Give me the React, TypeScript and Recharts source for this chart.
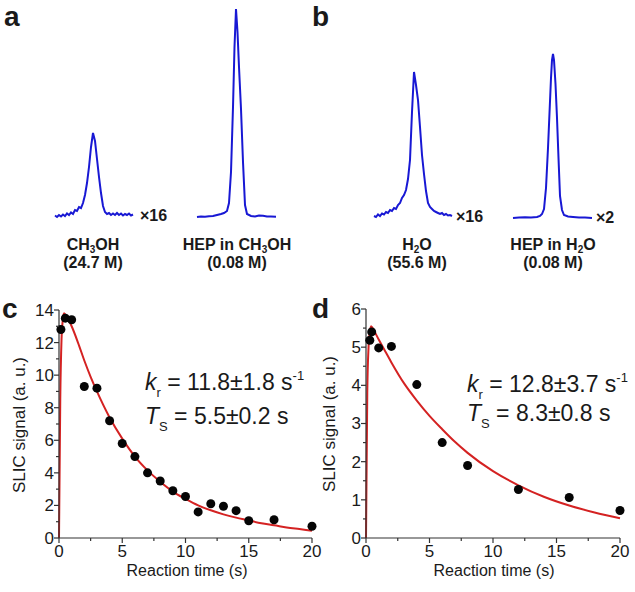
import React from 'react';
import { ComposedChart, LineChart, Line, Scatter, XAxis, YAxis } from 'recharts';

const FONT = '"Liberation Sans", Arial, Helvetica, sans-serif';
const BLUE = '#1818d4';
const RED = '#d42222';
const INK = '#1a1a1a';

// ---- spectra (x = relative shift, y = intensity, both in plot units) ----
const ch3ohShift = [0, 2, 4, 6, 8, 10, 12, 14, 16, 18, 20, 22, 24, 26, 28, 30, 32, 34, 36, 38, 40, 42, 44, 46, 48, 50, 52, 54, 56, 58, 60, 62, 64, 66, 68, 70, 72, 74, 76, 78];
const ch3ohSignal = [1.5, 0, 2, 0.5, 2.5, 1, 3.5, 2, 4.5, 3, 7, 6, 10, 9, 14, 22, 34, 50, 70, 84, 76, 58, 40, 24, 11, 5, 3, 4, 2, 3.5, 2, 4, 2, 3.5, 1.5, 3, 2, 3.5, 1.5, 2.5];

const hepMeohShift = [0, 4, 8, 12, 16, 20, 24, 27, 30, 32, 34, 36, 37.5, 39, 40.5, 42, 44, 46, 48, 50, 54, 58, 62, 66, 70, 74, 79];
const hepMeohSignal = [0, 0.5, 0.3, 0.8, 1, 2, 3, 4, 6, 14, 45, 110, 170, 208, 185, 150, 108, 55, 12, 3, 1, 0.5, 1.5, 1.2, 0.5, 0.5, 0.3];

const waterShift = [0, 2, 4, 6, 8, 10, 12, 14, 16, 18, 20, 22, 24, 26, 28, 30, 32, 34, 36, 38, 40, 42, 44, 46, 48, 50, 52, 54, 56, 58, 60, 62, 64, 66, 68, 70, 72, 74, 76, 78];
const waterSignal = [1, 0, 2.5, 1, 3.5, 2.5, 5, 4, 7, 6, 9, 8, 12, 14, 19, 22, 27, 38, 57, 105, 145, 132, 117, 90, 62, 43, 26, 14, 10, 8, 6, 5, 4, 3, 4, 2, 3, 1.5, 2, 1];

const hepWaterShift = [0, 6, 12, 18, 24, 27, 29, 31, 33, 35, 36.5, 38, 39, 40, 41, 42.5, 44, 45.5, 47, 49, 51, 55, 60, 66, 72, 79];
const hepWaterSignal = [0, 0.5, 0.8, 0.5, 1, 2, 4, 9, 30, 70, 105, 140, 158, 164, 158, 134, 100, 60, 22, 8, 3, 1.5, 1, 0.5, 0.5, 0];

// ---- kinetics, panel c (CH3OH) ----
const timeC = [0.15, 0.5, 1, 2, 3, 4, 5, 6, 7, 8, 9, 10, 11, 12, 13, 14, 15, 17, 20];
const signalC = [12.8, 13.5, 13.4, 9.3, 9.2, 7.2, 5.8, 5.0, 4.0, 3.5, 2.9, 2.55, 1.6, 2.1, 1.95, 1.68, 1.06, 1.12, 0.72];
const fitTimeC = [0, 0.1, 0.2, 0.3, 0.4, 0.6, 1, 1.5, 2, 2.5, 3, 4, 5, 6, 7, 8, 9, 10, 11, 12, 13, 14, 15, 16, 17, 18, 19, 20];
const fitC = [0, 8.5, 12.2, 13.4, 13.8, 13.6, 13.0, 12.0, 10.9, 9.9, 9.0, 7.4, 6.1, 5.0, 4.15, 3.45, 2.85, 2.4, 2.0, 1.7, 1.45, 1.25, 1.08, 0.9, 0.78, 0.65, 0.55, 0.45];

// ---- kinetics, panel d (H2O) ----
const timeD = [0.3, 0.45, 1, 2, 4, 6, 8, 12, 16, 20];
const signalD = [5.18, 5.4, 4.98, 5.02, 4.02, 2.5, 1.9, 1.27, 1.06, 0.72];
const fitTimeD = [0, 0.1, 0.2, 0.3, 0.4, 0.6, 1, 1.5, 2, 3, 4, 5, 6, 7, 8, 10, 12, 14, 16, 18, 20];
const fitD = [0, 3.8, 5.0, 5.4, 5.55, 5.45, 5.2, 4.9, 4.6, 4.05, 3.6, 3.2, 2.85, 2.52, 2.23, 1.75, 1.38, 1.08, 0.85, 0.67, 0.52];

const timeTicks = [0, 2.5, 5, 7.5, 10, 12.5, 15, 17.5, 20];
const ticksC = [0, 1, 2, 3, 4, 5, 6, 7, 8, 9, 10, 11, 12, 13, 14];
const ticksD = [0, 0.5, 1, 1.5, 2, 2.5, 3, 3.5, 4, 4.5, 5, 5.5, 6];

const pairs = (xs: number[], ys: number[], kx: string, ky: string) =>
  xs.map((x, i) => ({ [kx]: x, [ky]: ys[i] }));

function Spectrum({ xs, ys, left, zeroY, height }: any) {
  const pad = 4;
  const span = xs[xs.length - 1];
  const data = pairs(xs, ys, 'x', 'y');
  return (
    <div style={{ position: 'absolute', left: left - pad, top: zeroY - height - pad }}>
      <LineChart width={span + pad * 2} height={height + pad * 2} data={data} margin={{ top: 0, right: 0, bottom: 0, left: 0 }}>
        <XAxis dataKey="x" type="number" domain={[-pad, span + pad]} hide />
        <YAxis type="number" domain={[-pad, height + pad]} hide />
        <Line dataKey="y" type="linear" stroke={BLUE} strokeWidth={2} dot={false} isAnimationActive={false} />
      </LineChart>
    </div>
  );
}

const XTick = (props: any) => {
  const { x, y, payload } = props;
  const major = payload.value % 5 === 0;
  return (
    <g>
      <line x1={x} x2={x} y1={y} y2={y + (major ? 5 : 3)} stroke="#333" strokeWidth={1.2} />
      {major && (
        <text x={x} y={y + 19} textAnchor="middle" fontSize={17} fill={INK} fontFamily={FONT}>
          {payload.value}
        </text>
      )}
    </g>
  );
};

const makeYTick = (step: number) => (props: any) => {
  const { x, y, payload } = props;
  const major = Math.abs(payload.value / step - Math.round(payload.value / step)) < 1e-6;
  return (
    <g>
      <line x1={x} x2={x - (major ? 5 : 3)} y1={y} y2={y} stroke="#333" strokeWidth={1.2} />
      {major && (
        <text x={x - 5} y={y} dy="0.35em" textAnchor="end" fontSize={17} fill={INK} fontFamily={FONT}>
          {payload.value}
        </text>
      )}
    </g>
  );
};

function Kinetics({ left, top, width, yWidth, marginTop, marginRight, yMax, yTicks, yStep, pts, fit }: any) {
  const YTick = makeYTick(yStep);
  return (
    <div style={{ position: 'absolute', left, top }}>
      <ComposedChart width={width} height={292} margin={{ top: marginTop, right: marginRight, bottom: 0, left: 0 }}>
        <XAxis
          dataKey="t"
          type="number"
          domain={[0, 20]}
          ticks={timeTicks}
          interval={0}
          height={54}
          tickSize={0}
          tickMargin={0}
          tick={<XTick />}
          axisLine={{ stroke: '#333', strokeWidth: 1.2 }}
        />
        <YAxis
          type="number"
          domain={[0, yMax]}
          ticks={yTicks}
          interval={0}
          width={yWidth}
          tickSize={0}
          tickMargin={0}
          tick={<YTick />}
          axisLine={{ stroke: '#333', strokeWidth: 1.2 }}
        />
        <Line data={fit} dataKey="v" type="monotone" stroke={RED} strokeWidth={2} dot={false} isAnimationActive={false} />
        <Scatter
          data={pts}
          dataKey="v"
          fill="#000"
          isAnimationActive={false}
          shape={(p: any) => <circle cx={p.cx} cy={p.cy} r={4.5} fill="#050505" />}
        />
      </ComposedChart>
    </div>
  );
}

// bold sample label with a subscript digit, e.g. CH3OH
const SubLabel = ({ x, y, pre, sub, post }: any) => (
  <text x={x} y={y}>
    <tspan>{pre}</tspan>
    <tspan fontSize={10} dy={3}>{sub}</tspan>
    <tspan dy={-3}>{post}</tspan>
  </text>
);

const FitText = ({ x, y, sym, sub, value, sup }: any) => (
  <text x={x} y={y}>
    <tspan fontStyle="italic">{sym}</tspan>
    <tspan fontSize={13} dy={7}>{sub}</tspan>
    <tspan dy={-7}>{' = ' + value}</tspan>
    {sup && <tspan fontSize={13} dy={-10}>{sup}</tspan>}
  </text>
);

export default function App() {
  const textStyle = { fontFamily: FONT, fill: INK } as any;
  return (
    <div style={{ position: 'absolute', left: 0, top: 0, width: 635, height: 592, background: '#fff', overflow: 'hidden' }}>
      <Spectrum xs={ch3ohShift} ys={ch3ohSignal} left={55} zeroY={217} height={84} />
      <Spectrum xs={hepMeohShift} ys={hepMeohSignal} left={197} zeroY={217} height={208} />
      <Spectrum xs={waterShift} ys={waterSignal} left={374} zeroY={217} height={145} />
      <Spectrum xs={hepWaterShift} ys={hepWaterSignal} left={513} zeroY={218} height={164} />

      <Kinetics
        left={0}
        top={300}
        width={330}
        yWidth={59}
        marginTop={10}
        marginRight={18}
        yMax={14}
        yTicks={ticksC}
        yStep={2}
        pts={pairs(timeC, signalC, 't', 'v')}
        fit={pairs(fitTimeC, fitC, 't', 'v')}
      />
      <Kinetics
        left={320}
        top={300}
        width={315}
        yWidth={46}
        marginTop={9}
        marginRight={15}
        yMax={6}
        yTicks={ticksD}
        yStep={1}
        pts={pairs(timeD, signalD, 't', 'v')}
        fit={pairs(fitTimeD, fitD, 't', 'v')}
      />

      <svg width={635} height={592} style={{ position: 'absolute', left: 0, top: 0, pointerEvents: 'none' }}>
        <g {...textStyle} fontWeight="bold" fontSize={28}>
          <text x={4} y={26}>a</text>
          <text x={312} y={26}>b</text>
          <text x={2} y={318}>c</text>
          <text x={312} y={318}>d</text>
        </g>
        <g {...textStyle} fontWeight="bold" fontSize={16}>
          <text x={140} y={221}>×16</text>
          <text x={456} y={222}>×16</text>
          <text x={596} y={223}>×2</text>
        </g>
        <g {...textStyle} fontWeight="bold" fontSize={16} textAnchor="middle">
          <SubLabel x={93} y={250} pre="CH" sub="3" post="OH" />
          <text x={93} y={268}>(24.7 M)</text>
          <SubLabel x={237} y={250} pre="HEP in CH" sub="3" post="OH" />
          <text x={237} y={268}>(0.08 M)</text>
          <SubLabel x={417} y={250} pre="H" sub="2" post="O" />
          <text x={417} y={268}>(55.6 M)</text>
          <SubLabel x={553} y={250} pre="HEP in H" sub="2" post="O" />
          <text x={553} y={268}>(0.08 M)</text>
        </g>
        <g {...textStyle} fontSize={16} textAnchor="middle">
          <text x={187} y={576}>Reaction time (s)</text>
          <text x={494} y={576}>Reaction time (s)</text>
        </g>
        <g {...textStyle} fontSize={17} textAnchor="middle">
          <text transform="translate(25,425) rotate(-90)">SLIC signal (a. u.)</text>
          <text transform="translate(335,424) rotate(-90)">SLIC signal (a. u.)</text>
        </g>
        <g {...textStyle} fontSize={23}>
          <FitText x={145} y={390} sym="k" sub="r" value="11.8±1.8 s" sup="-1" />
          <FitText x={145} y={424} sym="T" sub="S" value="5.5±0.2 s" />
          <FitText x={467} y={392} sym="k" sub="r" value="12.8±3.7 s" sup="-1" />
          <FitText x={467} y={421} sym="T" sub="S" value="8.3±0.8 s" />
        </g>
      </svg>
    </div>
  );
}
